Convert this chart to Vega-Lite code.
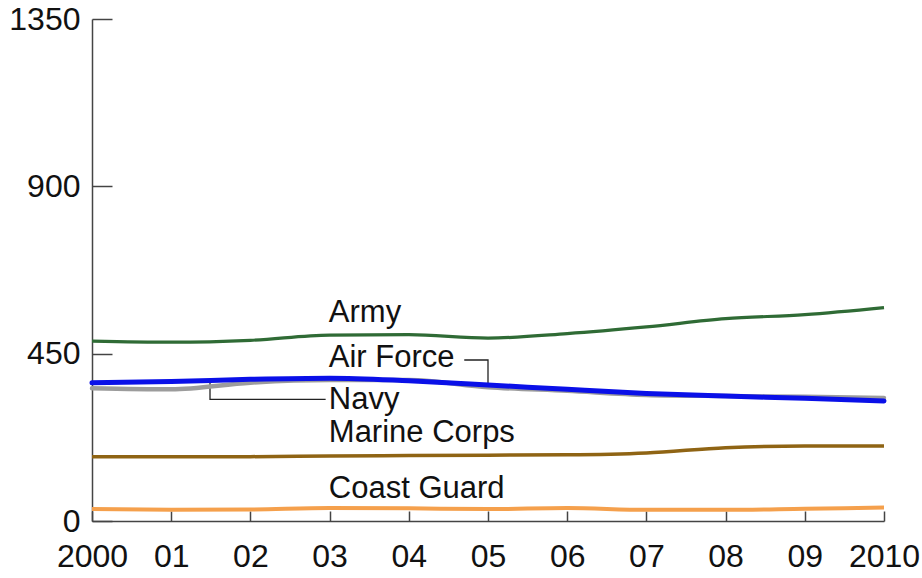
{
  "$schema": "https://vega.github.io/schema/vega-lite/v6.json",
  "width": 792,
  "height": 502,
  "autosize": "none",
  "padding": {"left": 92, "top": 19, "right": 38, "bottom": 57},
  "background": "white",
  "config": {
    "view": {"stroke": null},
    "font": "Liberation Sans",
    "axis": {
      "grid": false,
      "domainColor": "#444444",
      "domainWidth": 1.5,
      "tickColor": "#444444",
      "tickWidth": 1.5,
      "labelFont": "Liberation Sans",
      "labelFontSize": 32,
      "labelColor": "#111111",
      "labelFlush": false,
      "labelOverlap": false,
      "title": null
    }
  },
  "datasets": {
    "series": [
      {"year": 2000, "branch": "Army", "value": 484},
      {"year": 2001, "branch": "Army", "value": 481},
      {"year": 2002, "branch": "Army", "value": 486},
      {"year": 2003, "branch": "Army", "value": 500},
      {"year": 2004, "branch": "Army", "value": 501},
      {"year": 2005, "branch": "Army", "value": 492},
      {"year": 2006, "branch": "Army", "value": 504},
      {"year": 2007, "branch": "Army", "value": 522},
      {"year": 2008, "branch": "Army", "value": 544},
      {"year": 2009, "branch": "Army", "value": 555},
      {"year": 2010, "branch": "Army", "value": 574},
      {"year": 2000, "branch": "Navy", "value": 372},
      {"year": 2001, "branch": "Navy", "value": 375},
      {"year": 2002, "branch": "Navy", "value": 381},
      {"year": 2003, "branch": "Navy", "value": 384},
      {"year": 2004, "branch": "Navy", "value": 377},
      {"year": 2005, "branch": "Navy", "value": 366},
      {"year": 2006, "branch": "Navy", "value": 354},
      {"year": 2007, "branch": "Navy", "value": 343},
      {"year": 2008, "branch": "Navy", "value": 336},
      {"year": 2009, "branch": "Navy", "value": 330},
      {"year": 2010, "branch": "Navy", "value": 323},
      {"year": 2000, "branch": "Air Force", "value": 357},
      {"year": 2001, "branch": "Air Force", "value": 354},
      {"year": 2002, "branch": "Air Force", "value": 372},
      {"year": 2003, "branch": "Air Force", "value": 379},
      {"year": 2004, "branch": "Air Force", "value": 379},
      {"year": 2005, "branch": "Air Force", "value": 360},
      {"year": 2006, "branch": "Air Force", "value": 350},
      {"year": 2007, "branch": "Air Force", "value": 339},
      {"year": 2008, "branch": "Air Force", "value": 336},
      {"year": 2009, "branch": "Air Force", "value": 334},
      {"year": 2010, "branch": "Air Force", "value": 331},
      {"year": 2000, "branch": "Marine Corps", "value": 173},
      {"year": 2001, "branch": "Marine Corps", "value": 173},
      {"year": 2002, "branch": "Marine Corps", "value": 173},
      {"year": 2003, "branch": "Marine Corps", "value": 175},
      {"year": 2004, "branch": "Marine Corps", "value": 176},
      {"year": 2005, "branch": "Marine Corps", "value": 177},
      {"year": 2006, "branch": "Marine Corps", "value": 178},
      {"year": 2007, "branch": "Marine Corps", "value": 183},
      {"year": 2008, "branch": "Marine Corps", "value": 197},
      {"year": 2009, "branch": "Marine Corps", "value": 202},
      {"year": 2010, "branch": "Marine Corps", "value": 202},
      {"year": 2000, "branch": "Coast Guard", "value": 32},
      {"year": 2001, "branch": "Coast Guard", "value": 30},
      {"year": 2002, "branch": "Coast Guard", "value": 31},
      {"year": 2003, "branch": "Coast Guard", "value": 35},
      {"year": 2004, "branch": "Coast Guard", "value": 34},
      {"year": 2005, "branch": "Coast Guard", "value": 32},
      {"year": 2006, "branch": "Coast Guard", "value": 35},
      {"year": 2007, "branch": "Coast Guard", "value": 30},
      {"year": 2008, "branch": "Coast Guard", "value": 30},
      {"year": 2009, "branch": "Coast Guard", "value": 33},
      {"year": 2010, "branch": "Coast Guard", "value": 36}
    ],
    "labels": [
      {"label": "Army", "year": 2002.99, "value": 536},
      {"label": "Air Force", "year": 2002.99, "value": 415},
      {"label": "Navy", "year": 2002.99, "value": 300},
      {"label": "Marine Corps", "year": 2002.99, "value": 212},
      {"label": "Coast Guard", "year": 2002.99, "value": 61}
    ],
    "connectors": [
      {"id": "af", "i": 1, "year": 2004.7, "value": 433},
      {"id": "af", "i": 2, "year": 2005.0, "value": 433},
      {"id": "af", "i": 3, "year": 2005.0, "value": 356},
      {"id": "nv", "i": 1, "year": 2001.49, "value": 380},
      {"id": "nv", "i": 2, "year": 2001.49, "value": 327},
      {"id": "nv", "i": 3, "year": 2002.95, "value": 327}
    ]
  },
  "layer": [
    {
      "data": {"name": "connectors"},
      "mark": {"type": "line", "color": "#222222", "strokeWidth": 1.3, "interpolate": "linear"},
      "encoding": {
        "x": {"field": "year", "type": "quantitative", "scale": {"domain": [2000, 2010], "nice": false, "zero": false},
          "axis": {"values": [2000, 2001, 2002, 2003, 2004, 2005, 2006, 2007, 2008, 2009, 2010], "tickSize": -10, "labelPadding": 30,
            "labelExpr": "datum.value == 2000 || datum.value == 2010 ? '' + datum.value : '0' + (datum.value - 2000)"}},
        "y": {"field": "value", "type": "quantitative", "scale": {"domain": [0, 1350], "nice": false},
          "axis": {"values": [0, 450, 900, 1350], "format": "d", "tickSize": -20, "labelPadding": 32}},
        "detail": {"field": "id"},
        "order": {"field": "i"}
      }
    },
    {
      "data": {"name": "series"},
      "transform": [{"filter": "datum.branch == 'Army'"}],
      "mark": {"type": "line", "color": "#2f6b35", "strokeWidth": 3.2, "interpolate": "monotone"},
      "encoding": {"x": {"field": "year", "type": "quantitative"}, "y": {"field": "value", "type": "quantitative"}}
    },
    {
      "data": {"name": "series"},
      "transform": [{"filter": "datum.branch == 'Air Force'"}],
      "mark": {"type": "line", "color": "#9c9c9c", "strokeWidth": 4.5, "interpolate": "monotone", "strokeCap": "round"},
      "encoding": {"x": {"field": "year", "type": "quantitative"}, "y": {"field": "value", "type": "quantitative"}}
    },
    {
      "data": {"name": "series"},
      "transform": [{"filter": "datum.branch == 'Navy'"}],
      "mark": {"type": "line", "color": "#0a10e8", "strokeWidth": 5, "interpolate": "monotone", "strokeCap": "round"},
      "encoding": {"x": {"field": "year", "type": "quantitative"}, "y": {"field": "value", "type": "quantitative"}}
    },
    {
      "data": {"name": "series"},
      "transform": [{"filter": "datum.branch == 'Marine Corps'"}],
      "mark": {"type": "line", "color": "#8f6414", "strokeWidth": 3.5, "interpolate": "monotone"},
      "encoding": {"x": {"field": "year", "type": "quantitative"}, "y": {"field": "value", "type": "quantitative"}}
    },
    {
      "data": {"name": "series"},
      "transform": [{"filter": "datum.branch == 'Coast Guard'"}],
      "mark": {"type": "line", "color": "#f5a04c", "strokeWidth": 4, "interpolate": "monotone"},
      "encoding": {"x": {"field": "year", "type": "quantitative"}, "y": {"field": "value", "type": "quantitative"}}
    },
    {
      "data": {"name": "labels"},
      "mark": {"type": "text", "align": "left", "baseline": "alphabetic", "fontSize": 31, "font": "Liberation Sans", "color": "#111111"},
      "encoding": {
        "x": {"field": "year", "type": "quantitative"},
        "y": {"field": "value", "type": "quantitative"},
        "text": {"field": "label"}
      }
    }
  ]
}
